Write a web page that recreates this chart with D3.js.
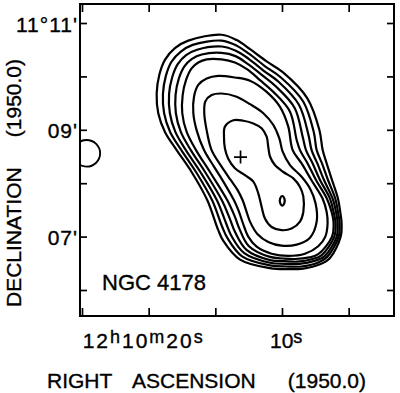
<!DOCTYPE html>
<html><head><meta charset="utf-8">
<script src="https://cdn.jsdelivr.net/npm/d3@7"></script>
<style>html,body{margin:0;padding:0;background:#fff;} svg{display:block;}</style>
</head><body>
<svg id="chart" width="400" height="393"></svg>
<script>
// ---- data (RA in seconds of 12h10m, Dec in arcmin of 11°) ----
const raTicks = [25, 20, 15, 10, 5];
const decTicks = [6, 7, 8, 9, 10, 11];
const decLabels = [{dec: 11, text: "11°11'"}, {dec: 9, text: "09'"}, {dec: 7, text: "07'"}];
const raLabels = [
  {ra: 20, parts: [["12", "h"], ["10", "m"], ["20", "s"]]},
  {ra: 10, parts: [["10", "s"]]}
];
const xTitleWords = ["RIGHT", "ASCENSION", "(1950.0)"];
const yTitleWords = ["DECLINATION", "(1950.0)"];
const sourceName = "NGC 4178";
const sourceLabelPos = [23.5, 6.0];
const opticalCenter = [13.11, 8.49];
const beam = {ra: 24.66, dec: 8.56, radiusArcmin: 0.25};

const contour1 = [[14.53,10.78],[13.40,10.68],[12.40,10.51],[11.15,10.28],[9.90,10.07],[8.10,9.59],[7.20,9.00],
  [6.95,8.62],[6.65,8.37],[6.25,8.06],[5.80,7.71],[5.63,7.46],[5.53,7.25],[5.60,7.00],
  [6.40,6.60],[7.15,6.48],[8.40,6.40],[9.65,6.39],[10.90,6.41],[13.15,6.57],[14.40,6.92],[14.78,7.12],[15.60,7.68],
  [16.78,8.21],[17.90,8.62],[18.78,8.96],[19.28,9.31],[19.40,9.68],[19.20,10.03],[18.78,10.31],[18.03,10.53],[17.03,10.67]];
const contour2 = [[14.53,10.67],[13.43,10.58],[12.45,10.42],[11.27,10.19],[10.08,9.98],[8.41,9.53],[7.61,8.95],
  [7.40,8.62],[7.00,8.37],[6.55,8.06],[6.00,7.71],[5.80,7.46],[5.68,7.25],[5.75,7.00],
  [6.61,6.62],[7.33,6.51],[8.55,6.44],[9.71,6.44],[10.90,6.46],[12.99,6.63],[14.11,6.98],[14.48,7.18],[15.24,7.68],
  [16.45,8.21],[17.55,8.62],[18.39,8.96],[18.84,9.31],[18.93,9.67],[18.72,10.00],[18.30,10.27],[17.61,10.46],[16.70,10.59]];
const contour3 = [[14.53,10.56],[13.46,10.48],[12.50,10.33],[11.39,10.11],[10.26,9.90],[8.73,9.47],[8.02,8.91],
  [7.78,8.62],[7.35,8.37],[6.85,8.06],[6.20,7.71],[5.95,7.46],[5.83,7.25],[5.90,7.00],
  [6.82,6.63],[7.50,6.55],[8.70,6.49],[9.77,6.49],[10.90,6.51],[12.83,6.69],[13.83,7.03],[14.18,7.24],[14.88,7.68],
  [16.12,8.21],[17.21,8.62],[18.00,8.96],[18.41,9.31],[18.47,9.67],[18.24,9.98],[17.82,10.23],[17.19,10.40],[16.37,10.50]];
const contour4 = [[14.53,10.44],[13.49,10.38],[12.55,10.23],[11.52,10.03],[10.45,9.81],[9.05,9.41],[8.44,8.86],
  [8.20,8.62],[7.70,8.37],[7.15,8.06],[6.40,7.71],[6.13,7.46],[5.98,7.25],[6.08,7.00],
  [7.04,6.65],[7.70,6.58],[8.86,6.53],[9.83,6.54],[10.90,6.56],[12.66,6.75],[13.53,7.09],[13.86,7.30],[14.51,7.68],
  [15.77,8.21],[16.84,8.62],[17.59,8.96],[17.96,9.31],[17.98,9.66],[17.74,9.96],[17.32,10.19],[16.75,10.33],[16.02,10.41]];
const contour5 = [[14.53,10.32],[13.53,10.26],[12.60,10.13],[11.65,9.93],[10.65,9.71],[9.40,9.34],[8.90,8.81],
  [8.65,8.62],[8.08,8.37],[7.45,8.06],[6.63,7.71],[6.28,7.46],[6.13,7.25],[6.25,7.00],
  [7.28,6.67],[7.95,6.61],[9.03,6.58],[9.90,6.59],[10.90,6.62],[12.48,6.82],[13.20,7.15],[13.53,7.37],[14.10,7.68],
  [15.40,8.21],[16.45,8.62],[17.15,8.96],[17.48,9.31],[17.45,9.65],[17.20,9.93],[16.78,10.15],[16.28,10.26],[15.65,10.32]];
const contour6 = [[14.78,10.01],[13.53,9.98],[12.40,9.92],[11.15,9.71],[10.15,9.43],[9.53,9.06],
  [9.20,8.62],[8.53,8.37],[7.80,8.06],[6.95,7.71],[6.65,7.46],[6.58,7.25],[6.75,7.00],
  [7.28,6.82],[8.28,6.68],[9.53,6.64],[10.78,6.68],[11.90,6.81],[12.53,7.00],[12.83,7.18],[13.28,7.50],[13.60,7.68],
  [14.40,8.03],[15.10,8.31],[15.85,8.62],[16.40,8.99],[16.65,9.31],[16.60,9.62],[16.28,9.84],[15.65,9.96]];
const contour7 = [[14.53,9.68],[13.40,9.62],[12.40,9.48],[11.40,9.31],[10.65,9.09],[10.20,8.84],[9.95,8.59],
  [9.40,8.34],[8.53,8.12],[7.90,7.90],[7.48,7.62],[7.40,7.28],[7.90,6.98],[8.90,6.85],[10.03,6.83],[11.03,6.90],
  [11.85,7.05],[12.40,7.28],[12.65,7.46],[12.95,7.68],[13.35,7.88],[13.85,8.06],[14.53,8.31],[15.28,8.62],
  [15.65,8.99],[15.83,9.31],[15.75,9.53],[15.28,9.65]];
const contour8 = [[14.28,9.06],[14.35,8.87],[14.28,8.65],[14.03,8.46],[13.53,8.28],[12.78,8.15],[12.15,8.03],
  [11.78,7.81],[11.53,7.56],[11.28,7.34],[10.78,7.18],[10.03,7.12],[9.28,7.15],[8.65,7.28],[8.40,7.46],[8.40,7.75],
  [8.65,7.93],[9.15,8.09],[9.90,8.21],[10.53,8.34],[10.90,8.50],[11.03,8.68],[11.15,8.87],[11.53,9.03],[12.15,9.12],
  [12.90,9.17],[13.65,9.18]];
const contour9 = [[9.98,7.76],[9.82,7.71],[9.82,7.63],[9.98,7.58],[10.14,7.63],[10.14,7.71]];
const contours = [contour1, contour2, contour3, contour4, contour5, contour6, contour7, contour8, contour9];

// ---- drawing ----
const svg = d3.select("#chart");
const plot = {left: 80, right: 394, top: 4, bottom: 316};
const x = d3.scaleLinear().domain([25.15, 1.6]).range([plot.left, plot.right]);
const y = d3.scaleLinear().domain([5.513, 11.356]).range([plot.bottom, plot.top]);
const font = "'Liberation Sans', Arial, Helvetica, sans-serif";
const textStroke = 0.35;

svg.append("rect").attr("width", 400).attr("height", 393).attr("fill", "#fff");

svg.append("defs").append("clipPath").attr("id", "plotclip")
  .append("rect").attr("x", plot.left).attr("y", plot.top)
  .attr("width", plot.right - plot.left).attr("height", plot.bottom - plot.top);

const gPlot = svg.append("g").attr("clip-path", "url(#plotclip)");

const line = d3.line().x(d => x(d[0])).y(d => y(d[1])).curve(d3.curveCatmullRomClosed.alpha(0.5));
gPlot.selectAll("path.contour").data(contours).join("path")
  .attr("class", "contour").attr("d", line)
  .attr("fill", "none").attr("stroke", "#000").attr("stroke-width", 2.2).attr("stroke-linejoin", "round");

// beam
const raPerArcmin = 4 / Math.cos((11 + beam.dec / 60) * Math.PI / 180);
gPlot.append("ellipse")
  .attr("cx", x(beam.ra)).attr("cy", y(beam.dec))
  .attr("rx", Math.abs(x(beam.ra + beam.radiusArcmin * raPerArcmin) - x(beam.ra)))
  .attr("ry", Math.abs(y(beam.dec - beam.radiusArcmin) - y(beam.dec)))
  .attr("fill", "none").attr("stroke", "#000").attr("stroke-width", 1.9);

// optical centre cross
const cx = x(opticalCenter[0]), cy = y(opticalCenter[1]), arm = 6.5;
svg.append("path").attr("d", `M${cx - arm},${cy}H${cx + arm}M${cx},${cy - arm}V${cy + arm}`)
  .attr("stroke", "#000").attr("stroke-width", 1.7).attr("fill", "none");

// axes (inward ticks)
function styleAxis(g) {
  g.select(".domain").remove();
  g.selectAll(".tick text").remove();
  g.selectAll(".tick line").attr("stroke", "#000").attr("stroke-width", 1.7);
}
svg.append("g").attr("transform", `translate(${plot.left},0)`)
  .call(d3.axisLeft(y).tickValues(decTicks).tickSize(-7).tickFormat("")).call(styleAxis);
svg.append("g").attr("transform", `translate(${plot.right},0)`)
  .call(d3.axisRight(y).tickValues(decTicks).tickSize(-7).tickFormat("")).call(styleAxis);
svg.append("g").attr("transform", `translate(0,${plot.top})`)
  .call(d3.axisTop(x).tickValues(raTicks).tickSize(-8).tickFormat("")).call(styleAxis);
svg.append("g").attr("transform", `translate(0,${plot.bottom})`)
  .call(d3.axisBottom(x).tickValues(raTicks).tickSize(-8).tickFormat("")).call(styleAxis);

svg.append("rect").attr("x", plot.left).attr("y", plot.top)
  .attr("width", plot.right - plot.left).attr("height", plot.bottom - plot.top)
  .attr("fill", "none").attr("stroke", "#000").attr("stroke-width", 2);

function txt(sel) {
  return sel.attr("font-family", font).attr("fill", "#000")
    .attr("stroke", "#000").attr("stroke-width", textStroke);
}

// dec labels
svg.selectAll("text.declab").data(decLabels).join("text")
  .attr("class", "declab")
  .attr("x", 78).attr("y", d => y(d.dec) + 8.5)
  .attr("text-anchor", "end").attr("font-size", 21)
  .attr("letter-spacing", 1).call(txt).text(d => d.text);

// RA labels
const raOffsets = {20: -66, 10: -12};
const raLengths = {20: 120};
raLabels.forEach(lab => {
  const t = svg.append("text")
    .attr("x", x(lab.ra) + raOffsets[lab.ra]).attr("y", 348).call(txt);
  if (raLengths[lab.ra]) t.attr("textLength", raLengths[lab.ra]).attr("lengthAdjust", "spacing");
  lab.parts.forEach((p, i) => {
    t.append("tspan").attr("font-size", 21).attr("dy", i === 0 ? 0 : 5).text(p[0]);
    t.append("tspan").attr("font-size", 18).attr("dy", -5).text(p[1]);
  });
});

// source name
svg.append("text").attr("x", x(sourceLabelPos[0])).attr("y", y(sourceLabelPos[1]))
  .attr("font-size", 22).call(txt).text(sourceName);

// x title
const xTitlePos = [{x: 47, a: "start"}, {x: 132, a: "start"}, {x: 366, a: "end"}];
xTitleWords.forEach((w, i) => {
  svg.append("text").attr("x", xTitlePos[i].x).attr("y", 388)
    .attr("text-anchor", xTitlePos[i].a)
    .attr("font-size", 21).call(txt).text(w);
});

// y title
const gy = svg.append("g").attr("transform", "translate(21,0) rotate(-90)");
const yTitlePos = [{x: -307, a: "start"}, {x: -59, a: "end"}];
yTitleWords.forEach((w, i) => {
  gy.append("text").attr("x", yTitlePos[i].x).attr("y", 0)
    .attr("text-anchor", yTitlePos[i].a)
    .attr("font-size", 21).call(txt).text(w);
});
</script>
</body></html>
